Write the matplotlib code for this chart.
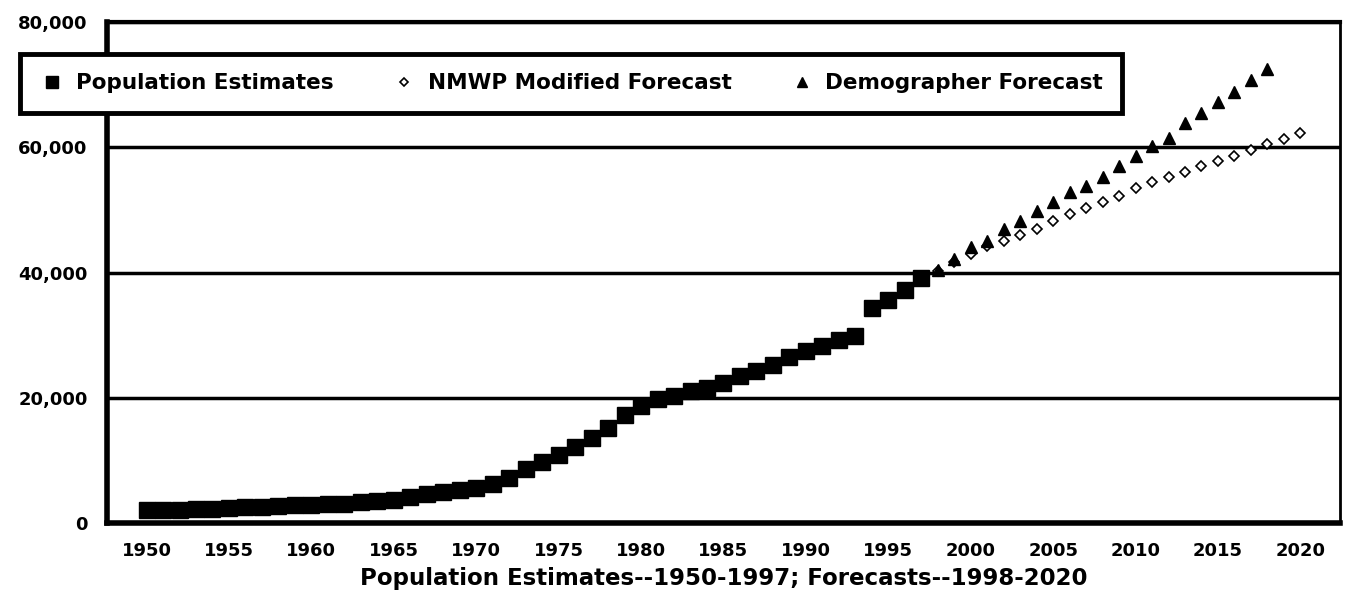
import numpy as np
import matplotlib
matplotlib.use("Agg")
import matplotlib.pyplot as plt

font = {'family': 'DejaVu Sans', 'weight': 'bold', 'size': 13}
matplotlib.rc('font', **font)

# population estimates 1950-1997
est_years = list(range(1950, 1998))
est_values = [2000, 2000, 2100, 2200, 2300, 2400, 2500, 2600, 2700, 2800,
              2900, 3000, 3100, 3300, 3500, 3700, 4100, 4600, 4900, 5200,
              5600, 6300, 7200, 8700, 9800, 10900, 12100, 13500, 15200, 17200,
              18700, 19800, 20300, 21000, 21600, 22400, 23400, 24300, 25300, 26500,
              27400, 28200, 29200, 29900, 34300, 35600, 37200, 39100]

# NMWP modified forecast 1998-2020
nmwp_years = list(range(1998, 2021))
nmwp_values = [40200, 41700, 43000, 44200, 45100, 46000, 47000, 48200, 49300, 50300,
               51300, 52300, 53500, 54400, 55200, 56100, 57000, 57800, 58600, 59500,
               60500, 61300, 62300]

# demographer forecast 1998-2018
demo_years = list(range(1998, 2019))
demo_values = [40400, 42100, 44000, 45000, 46900, 48200, 49800, 51300, 52900, 53900,
               55300, 57000, 58600, 60200, 61500, 63900, 65500, 67200, 68800, 70700,
               72500]

x_ticks = list(range(1950, 2021, 5))
y_ticks = [0, 20000, 40000, 60000, 80000]
y_labels = ["0", "20,000", "40,000", "60,000", "80,000"]

fig = plt.figure(figsize=(13.46, 5.97), dpi=100)
ax = fig.add_axes([0.0795, 0.124, 0.916, 0.839])

for yv in y_ticks[1:]:
    ax.axhline(yv, color='black', linewidth=2.5, zorder=1)

ax.plot(est_years, est_values, linestyle='none', marker='s', markersize=11.5,
        color='black', label="Population Estimates", zorder=3)
ax.plot(nmwp_years, nmwp_values, linestyle='none', marker='D', markersize=5,
        markerfacecolor='white', markeredgecolor='black', markeredgewidth=1.2,
        label="NMWP Modified Forecast", zorder=3)
ax.plot(demo_years, demo_values, linestyle='none', marker='^', markersize=9,
        color='black', label="Demographer Forecast", zorder=4)

ax.set_xlim(1947.6, 2022.4)
ax.set_ylim(0, 80000)
ax.set_xticks(x_ticks)
ax.set_yticks(y_ticks)
ax.set_yticklabels(y_labels, fontsize=13)
ax.tick_params(axis='x', labelsize=13, length=0, pad=14)
ax.tick_params(axis='y', length=0, pad=14)
ax.set_xlabel("Population Estimates--1950-1997; Forecasts--1998-2020",
              fontsize=16.5, fontweight='bold', labelpad=5)

ax.spines['left'].set_linewidth(4)
ax.spines['bottom'].set_linewidth(4)
ax.spines['top'].set_linewidth(3)
ax.spines['right'].set_linewidth(2)

leg = fig.legend(loc='center', ncol=3, bbox_to_anchor=(0.0149, 0.816, 0.819, 0.0885),
                 mode='expand', fontsize=15.5, frameon=True, fancybox=False,
                 edgecolor='black', framealpha=1, handlelength=1.2,
                 handletextpad=0.5, borderpad=0.9, borderaxespad=0,
                 markerscale=0.8)
leg.get_frame().set_linewidth(3.5)

fig.savefig("out.png", dpi=100)
